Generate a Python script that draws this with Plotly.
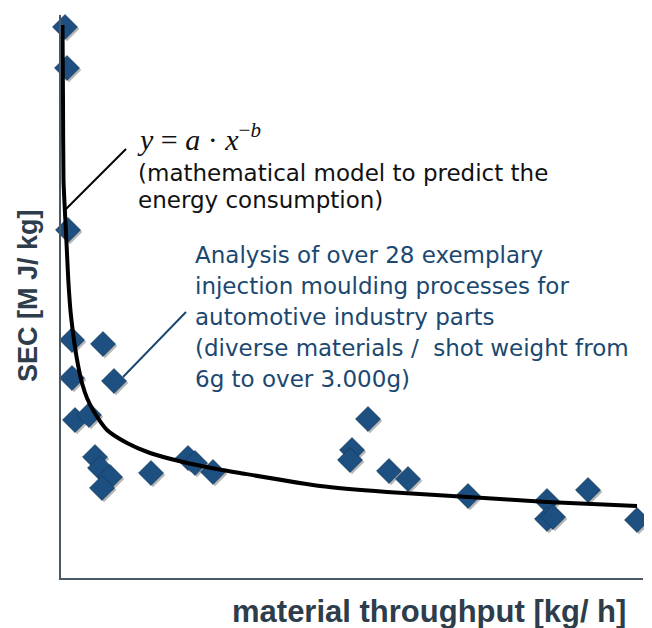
import plotly.graph_objects as go

# Data (arbitrary units, no tick labels in the original)
throughput = [4, 6, 7, 11, 42, 11, 53, 14, 28, 34, 39, 49, 41, 90, 127, 134, 152,
              291, 289, 307, 328, 347, 407, 486, 486, 492, 527, 576]
sec = [551, 510, 348, 238, 234, 200, 197, 158, 163, 121, 110, 101, 90, 105, 120, 115, 106,
       128, 118, 159, 107, 99, 82, 77, 59, 61, 88, 58]

# Fitted model curve y = a*x^-b
model_x = [1.5, 2, 2.5, 4, 5.7, 7.3, 9.7, 14, 17, 21, 26, 32, 46, 66, 89, 122, 156, 179, 259, 326, 407, 486, 576]
model_y = [553, 478, 398, 365, 331, 298, 265, 231, 213, 195, 180, 168, 148, 135, 125, 116, 109, 105, 92, 86, 81, 76, 72]

x_title = "material throughput [kg/ h]"
y_title = "SEC [M J/ kg]"
formula = "<i>y</i> = <i>a</i> · <i>x</i><sup>−<i>b</i></sup>"
model_note = ["(mathematical model to predict the", "energy consumption)"]
analysis_note = ["Analysis of over 28 exemplary",
                 "injection moulding processes for",
                 "automotive industry parts",
                 "(diverse materials /  shot weight from",
                 "6g to over 3.000g)"]

BLUE = "#1d4f80"
TEXT_BLUE = "#1b4870"
AXIS = "#4a5764"
XR = [0, 582]
YR = [0, 563]

fig = go.Figure()

# shadow of the diamonds
fig.add_trace(go.Scatter(
    x=[v + 2 for v in throughput], y=[v - 2 for v in sec], mode="markers",
    marker=dict(symbol="diamond", size=19, color="rgba(0,0,0,0.28)", line=dict(width=0)),
    hoverinfo="skip", cliponaxis=False, showlegend=False))
fig.add_trace(go.Scatter(
    x=throughput, y=sec, mode="markers",
    marker=dict(symbol="diamond", size=19, color=BLUE, line=dict(width=1, color="#173f66")),
    cliponaxis=False, showlegend=False))
fig.add_trace(go.Scatter(
    x=model_x, y=model_y, mode="lines",
    line=dict(color="black", width=4, shape="spline", smoothing=0.6),
    cliponaxis=False, showlegend=False))


def px(x):  # data x -> paper
    return (x - XR[0]) / (XR[1] - XR[0])


def py(y):  # data y -> paper
    return (y - YR[0]) / (YR[1] - YR[0])


ann = []
ann.append(dict(x=px(74), y=py(441), xref="paper", yref="paper", text=formula, showarrow=False,
                xanchor="left", yanchor="middle",
                font=dict(family="Liberation Serif", size=30, color="#111111")))
for i, t in enumerate(model_note):
    ann.append(dict(x=px(75), y=py(405 - i * 27), xref="paper", yref="paper", text=t,
                    showarrow=False, xanchor="left", yanchor="middle",
                    font=dict(family="DejaVu Sans", size=23, color="#111111")))
for i, t in enumerate(analysis_note):
    ann.append(dict(x=px(132), y=py(323 - i * 31), xref="paper", yref="paper", text=t,
                    showarrow=False, xanchor="left", yanchor="middle",
                    font=dict(family="DejaVu Sans", size=23, color=TEXT_BLUE)))
ann.append(dict(x=px(368), y=py(-33), xref="paper", yref="paper", text="<b>" + x_title + "</b>",
                showarrow=False, xanchor="center", yanchor="middle",
                font=dict(family="Liberation Sans", size=31, color="#2e3d4b")))
ann.append(dict(x=px(-33), y=py(282), xref="paper", yref="paper", text="<b>" + y_title + "</b>",
                showarrow=False, textangle=-90, xanchor="center", yanchor="middle",
                font=dict(family="Liberation Sans", size=27, color="#2e3d4b")))

shapes = [
    dict(type="line", x0=3, y0=367, x1=65, y1=429, line=dict(color="black", width=2)),
    dict(type="line", x0=62, y0=201, x1=125, y1=266, line=dict(color=TEXT_BLUE, width=2)),
]

# page body has an 8px default margin; offset margins so the plot area lands where the reference has it
fig.update_layout(
    width=644, height=620,
    margin=dict(l=53, r=9, t=7, b=50),
    paper_bgcolor="white", plot_bgcolor="white",
    annotations=ann, shapes=shapes,
    xaxis=dict(range=XR, showgrid=False, zeroline=False, showticklabels=False,
               ticks="", showline=True, linecolor=AXIS, linewidth=2),
    yaxis=dict(range=YR, showgrid=False, zeroline=False, showticklabels=False,
               ticks="", showline=True, linecolor=AXIS, linewidth=2),
)

fig.write_html("out.html")
